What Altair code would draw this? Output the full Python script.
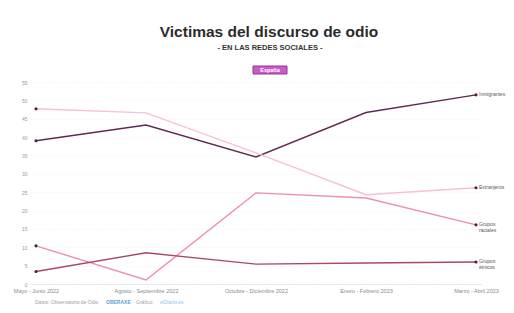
import altair as alt
import pandas as pd

periods = ["Mayo - Junio 2022", "Agosto - Septiembre 2022", "Octubre - Diciembre 2022",
           "Enero - Febrero 2023", "Marzo - Abril 2023"]
series_names = ["Inmigrantes", "Extranjeros", "Grupos raciales", "Grupos étnicos"]
end_labels = ["Inmigrantes", "Extranjeros", "Grupos\nraciales", "Grupos\nétnicos"]
inmigrantes = [39.0, 43.3, 34.6, 46.7, 51.5]
extranjeros = [47.7, 46.6, 35.7, 24.3, 26.2]
grupos_raciales = [10.4, 1.1, 24.8, 23.4, 16.1]
grupos_etnicos = [3.4, 8.5, 5.4, 5.7, 6.0]
line_colors = ["#5f2a4f", "#f6c1d3", "#ee8db2", "#a8466f"]
y_ticks = [0, 5, 10, 15, 20, 25, 30, 35, 40, 45, 50, 55]

title = "Victimas del discurso de odio"
subtitle = "- EN LAS REDES SOCIALES -"
badge = "España"
foot_gray1 = "Datos: Observatorio de Odio"
foot_blue1 = "OBERAXE"
foot_gray2 = "· Gráfico:"
foot_blue2 = "elDiario.es"

all_values = [inmigrantes, extranjeros, grupos_raciales, grupos_etnicos]
rows = []
for name, vals in zip(series_names, all_values):
    for i, (p, v) in enumerate(zip(periods, vals)):
        rows.append({"periodo": p, "valor": v, "serie": name, "idx": i})
df = pd.DataFrame(rows)
ends = df[df["idx"].isin([0, len(periods) - 1])]
last = df[df["idx"] == len(periods) - 1].copy()
last["etiqueta"] = [end_labels[series_names.index(s)] for s in last["serie"]]

x_enc = alt.X("periodo:N", sort=periods,
              scale=alt.Scale(type="point", padding=0.0545),
              axis=alt.Axis(title=None, labelAngle=0, labelFontSize=5.5, labelColor="#8a8a8a",
                            ticks=False, domain=True, domainColor="#d8d8d8", domainDash=[1, 1],
                            labelPadding=4, grid=False, labelOverlap=False))
y_enc = alt.Y("valor:Q", scale=alt.Scale(domain=[0, 55], nice=False, zero=True),
              axis=alt.Axis(title=None, values=y_ticks, tickCount=12, labelFontSize=5,
                            labelColor="#9a9a9a", ticks=False, domain=False, labelPadding=3,
                            labelOverlap=False, labelFlush=False, labelBound=False,
                            grid=True, gridColor="#f1f1f1", gridDash=[1, 2]))
color_enc = alt.Color("serie:N", scale=alt.Scale(domain=series_names, range=line_colors), legend=None)

base = alt.Chart(df)
lines = base.mark_line(strokeWidth=1.4).encode(x=x_enc, y=y_enc, color=color_enc, detail="serie:N")
pts = alt.Chart(ends).mark_point(filled=True, size=10, opacity=1, color="#4a2240").encode(
    x=x_enc, y=y_enc)
labels = alt.Chart(last).mark_text(align="left", baseline="top", dx=3, dy=-3, fontSize=5,
                                   color="#555", lineHeight=6.5, lineBreak="\n",
                                   font="Liberation Sans").encode(
    x=x_enc, y=y_enc, text="etiqueta:N")

one = pd.DataFrame({"a": [0]})
t_title = alt.Chart(one).mark_text(text=title, fontSize=15.5, fontWeight="bold", color="#2b2b2b",
                                   font="Liberation Sans", baseline="middle").encode(
    x=alt.value(239), y=alt.value(-50))
t_sub = alt.Chart(one).mark_text(text=subtitle, fontSize=7.5, fontWeight="bold", color="#333",
                                 font="Liberation Sans", baseline="middle").encode(
    x=alt.value(240), y=alt.value(-34))
b_rect = alt.Chart(one).mark_rect(color="#c85bc8", stroke="#8e3a8e", strokeWidth=1).encode(
    x=alt.value(223), x2=alt.value(257), y=alt.value(-16), y2=alt.value(-8))
b_text = alt.Chart(one).mark_text(text=badge, fontSize=5.5, fontWeight="bold", color="white",
                                  font="Liberation Sans", baseline="middle").encode(
    x=alt.value(240), y=alt.value(-12))
f1 = alt.Chart(one).mark_text(text=foot_gray1, fontSize=5, color="#a0a0a0", align="left",
                              baseline="middle", font="Liberation Sans").encode(
    x=alt.value(5), y=alt.value(220))
f2 = alt.Chart(one).mark_text(text=foot_blue1, fontSize=5, color="#5aa0d8", align="left",
                              baseline="middle", font="Liberation Sans", fontWeight="bold").encode(
    x=alt.value(76), y=alt.value(220))
f3 = alt.Chart(one).mark_text(text=foot_gray2, fontSize=5, color="#a0a0a0", align="left",
                              baseline="middle", font="Liberation Sans").encode(
    x=alt.value(103), y=alt.value(220))
f4 = alt.Chart(one).mark_text(text=foot_blue2, fontSize=5, color="#8cc4ec", align="left",
                              baseline="middle", font="Liberation Sans").encode(
    x=alt.value(130), y=alt.value(220))

chart = alt.layer(lines, pts, labels, t_title, t_sub, b_rect, b_text, f1, f2, f3, f4).properties(
    width=452, height=202,
    autosize=alt.AutoSizeParams(type="none"),
    padding={"left": 22, "top": 74, "right": 24, "bottom": 21},
    background="white",
).configure_view(stroke=None).configure_axis(labelFont="Liberation Sans")

chart.save("out.html", embed_options={"renderer": "svg", "actions": False})
